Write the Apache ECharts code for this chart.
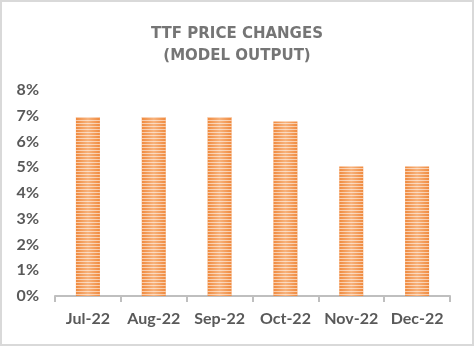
<!DOCTYPE html>
<html><head><meta charset="utf-8">
<script src="https://cdn.jsdelivr.net/npm/echarts@6/dist/echarts.min.js"></script>
<style>html,body{margin:0;padding:0;background:#fff}#c{width:474px;height:346px}</style>
</head><body><div id="c"></div>
<script>
const categories = ['Jul-22','Aug-22','Sep-22','Oct-22','Nov-22','Dec-22'];
const priceChanges = [6.95, 6.95, 6.95, 6.78, 5.03, 5.03];
const titleLines = ['TTF PRICE CHANGES', '(MODEL OUTPUT)'];

const chart = echarts.init(document.getElementById('c'));
chart.setOption({
  backgroundColor: '#fff',
  animation: false,
  graphic: [{type:'rect', shape:{x:1,y:1,width:472,height:344}, style:{fill:'none', stroke:'#d9d9d9', lineWidth:2}}],
  title: {
    text: titleLines.join('\n'), left: 'center', top: 18,
    textStyle: {fontFamily:'DejaVu Sans', fontWeight:'bold', fontSize:15, color:'#757575', lineHeight:22}
  },
  grid: {left:55, right:24, top:90, bottom:50, containLabel:false},
  xAxis: {
    type:'category', data: categories,
    axisLine:{show:true, lineStyle:{color:'#bfbfbf', width:2}},
    axisTick:{show:true, length:6, lineStyle:{color:'#bfbfbf', width:2}},
    axisLabel:{interval:0, margin:15, fontFamily:'Lato', fontWeight:'bold', fontSize:16, color:'#595959'}
  },
  yAxis: {
    type:'value', min:0, max:8, interval:1,
    axisLine:{show:false}, axisTick:{show:false}, splitLine:{show:false},
    axisLabel:{formatter:'{value}%', margin:16, fontFamily:'Lato', fontWeight:'bold', fontSize:16, color:'#595959'}
  },
  series: [{
    type:'bar', data: priceChanges, barWidth:24,
    itemStyle:{
      color: new echarts.graphic.LinearGradient(0,0,1,0,[
        {offset:0, color:'#f08a3e'},{offset:0.5, color:'#f7b27c'},{offset:1, color:'#f08a3e'}
      ]),
      decal:{symbol:'rect', symbolSize:1, color:'rgba(255,255,255,0.55)', dashArrayX:[1,0], dashArrayY:[1,2], rotation:0}
    }
  }]
});
</script></body></html>
